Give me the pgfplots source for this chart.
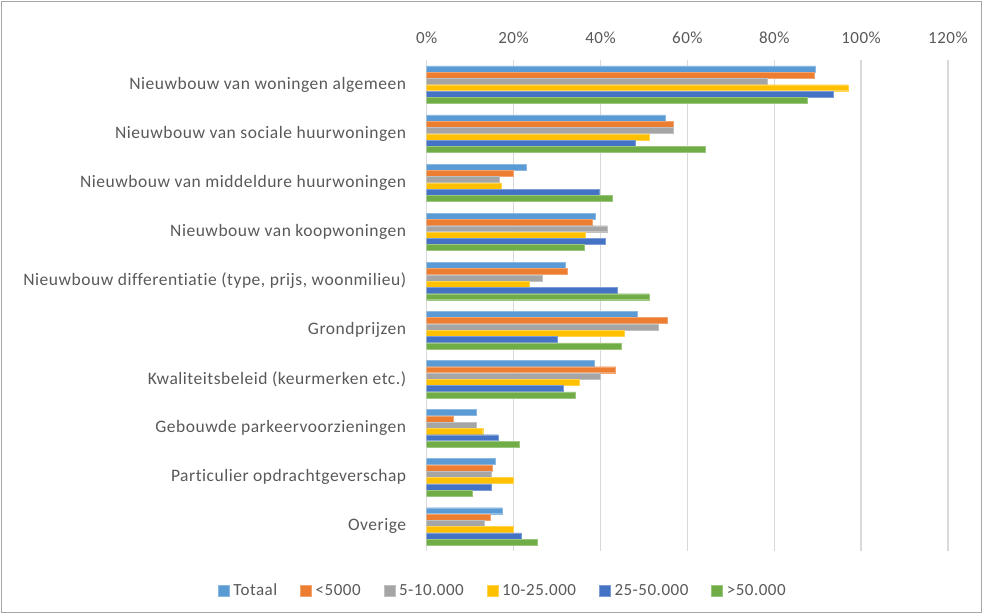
\documentclass[border=0pt]{standalone}
\usepackage{fontspec}
\setmainfont{Carlito}
\newfontfamily\labfont{Carlito}[LetterSpace=3,Ligatures=NoCommon]
\usepackage{pgfplots}
\pgfplotsset{compat=1.18}
\usepackage{pgfplotstable}

\definecolor{ctot}{HTML}{5B9BD5}
\definecolor{c5k}{HTML}{ED7D31}
\definecolor{c10k}{HTML}{A5A5A5}
\definecolor{c25k}{HTML}{FFC000}
\definecolor{c50k}{HTML}{4472C4}
\definecolor{cbig}{HTML}{70AD47}
\definecolor{txt}{HTML}{595959}
\definecolor{gridc}{HTML}{D9D9D9}

% cat: 0 = algemeen ... 9 = overige
\pgfplotstableread{
cat tot lt5 k10 k25 k50 big
0 89.5 89.2 78.3 97.0 93.6 87.5
1 54.8 56.8 56.8 51.2 48.1 64.1
2 22.9 19.9 16.7 17.2 39.8 42.7
3 38.7 38.1 41.6 36.5 41.2 36.2
4 31.9 32.3 26.5 23.5 43.9 51.2
5 48.5 55.3 53.2 45.5 30.1 44.8
6 38.5 43.5 40.0 35.2 31.5 34.1
7 11.3 6.2 11.3 12.9 16.4 21.2
8 15.8 15.0 14.9 19.9 14.9 10.5
9 17.4 14.6 13.2 19.9 21.8 25.5
}\datatab

\begin{document}
\begin{tikzpicture}
\path[use as bounding box] (0,0) rectangle (983pt,614pt);
\draw[gray!70] (1.5pt,1.5pt) rectangle (981.5pt,612.5pt);
\begin{axis}[
    at={(426.7pt,63pt)}, anchor=south west,
    scale only axis,
    width=521.3pt, height=491pt,
    xbar, bar width=6pt,
    xmin=0, xmax=120,
    ymin=-0.5, ymax=9.5,
    y dir=reverse,
    xtick={0,20,...,120},
    xticklabels={0\%,20\%,40\%,60\%,80\%,100\%,120\%},
    xticklabel pos=upper,
    ytick={0,...,9},
    yticklabels={Nieuwbouw van woningen algemeen,
        Nieuwbouw van sociale huurwoningen,
        Nieuwbouw van middeldure huurwoningen,
        Nieuwbouw van koopwoningen\ ,
        Nieuwbouw differentiatie (type{,} prijs{,} woonmilieu),
        Grondprijzen,
        Kwaliteitsbeleid (keurmerken etc.),
        Gebouwde parkeervoorzieningen,
        Particulier opdrachtgeverschap,
        Overige},
    major tick length=0pt,
    axis line style={draw=none},
    xmajorgrids, grid style={gridc, line width=1.3pt},
    tick label style={font=\labfont\fontsize{17}{20}\selectfont, text=txt},
    yticklabel style={font=\labfont\fontsize{17.5}{20}\selectfont, xshift=-17pt},
    xticklabel style={yshift=13pt},
    /pgf/number format/assume math mode=true,
    legend columns=6,
    legend style={at={(0.146,-0.081)}, anchor=center, draw=none,
        font=\labfont\fontsize{17}{20}\selectfont, text=txt,
        /tikz/every odd column/.append style={column sep=2pt},
        /tikz/every even column/.append style={column sep=21pt}},
    legend image code/.code={\fill[#1] (0pt,-5.5pt) rectangle (11pt,5.5pt);},
]
\addplot[fill=ctot, draw=ctot!70!white, bar shift=15.75pt] table[x=tot, y=cat] {\datatab};
\addlegendentry{Totaal}
\addplot[fill=c5k, draw=c5k!70!white, bar shift=9.45pt] table[x=lt5, y=cat] {\datatab};
\addlegendentry{<5000}
\addplot[fill=c10k, draw=c10k!70!white, bar shift=3.15pt] table[x=k10, y=cat] {\datatab};
\addlegendentry{5-10.000}
\addplot[fill=c25k, draw=c25k!70!white, bar shift=-3.15pt] table[x=k25, y=cat] {\datatab};
\addlegendentry{10-25.000}
\addplot[fill=c50k, draw=c50k!70!white, bar shift=-9.45pt] table[x=k50, y=cat] {\datatab};
\addlegendentry{25-50.000}
\addplot[fill=cbig, draw=cbig!70!white, bar shift=-15.75pt] table[x=big, y=cat] {\datatab};
\addlegendentry{>50.000}
\end{axis}
\end{tikzpicture}
\end{document}
